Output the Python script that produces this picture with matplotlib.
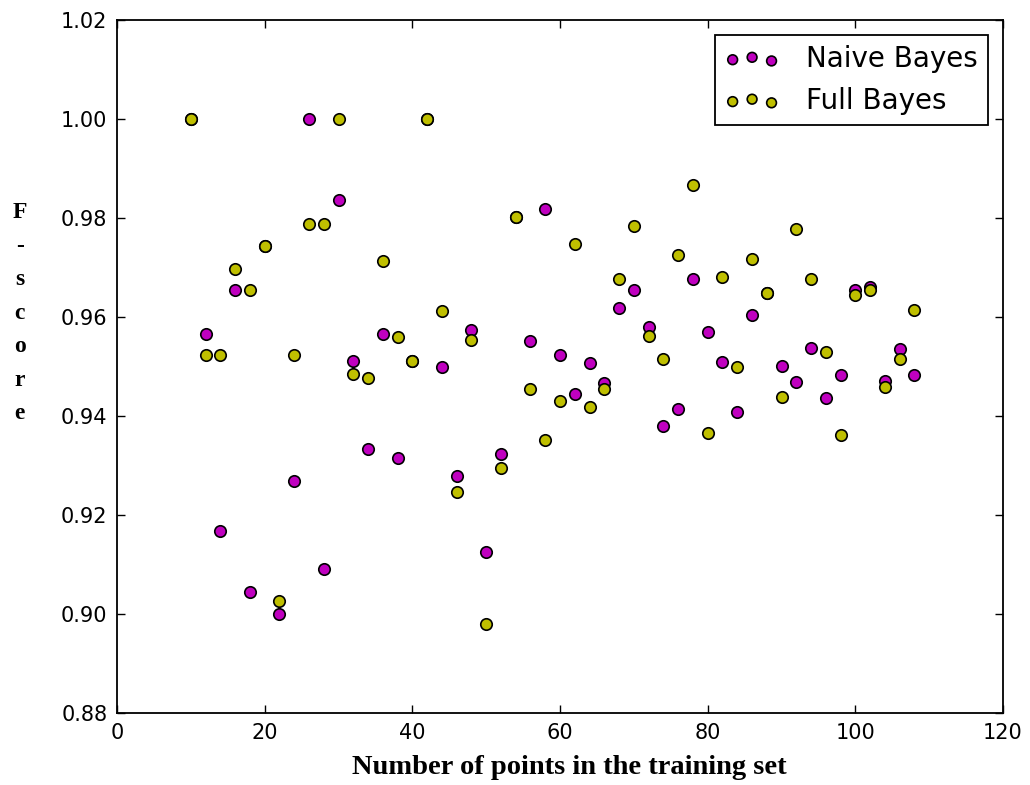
import matplotlib
matplotlib.use("Agg")
import matplotlib.pyplot as plt

# training set sizes
n_points = list(range(10, 110, 2))

naive_bayes = [1.000, 0.9566, 0.9167, 0.9655, 0.9044, 0.9743, 0.9000, 0.9268, 1.000, 0.9091,
               0.9836, 0.9512, 0.9333, 0.9566, 0.9315, 0.9512, 1.000, 0.9500, 0.9278, 0.9573,
               0.9126, 0.9324, 0.9803, 0.9552, 0.9818, 0.9523, 0.9445, 0.9508, 0.9466, 0.9619,
               0.9655, 0.9579, 0.9380, 0.9415, 0.9677, 0.9570, 0.9510, 0.9408, 0.9604, 0.9649,
               0.9502, 0.9468, 0.9538, 0.9436, 0.9483, 0.9655, 0.9660, 0.9470, 0.9535, 0.9483]

full_bayes = [1.000, 0.9523, 0.9523, 0.9696, 0.9655, 0.9743, 0.9026, 0.9523, 0.9787, 0.9787,
              1.000, 0.9484, 0.9476, 0.9714, 0.9560, 0.9512, 1.000, 0.9612, 0.9247, 0.9554,
              0.8979, 0.9295, 0.9803, 0.9454, 0.9351, 0.9431, 0.9748, 0.9418, 0.9455, 0.9677,
              0.9783, 0.9562, 0.9515, 0.9725, 0.9866, 0.9366, 0.9681, 0.9499, 0.9717, 0.9649,
              0.9438, 0.9777, 0.9676, 0.9529, 0.9362, 0.9644, 0.9654, 0.9459, 0.9516, 0.9615]

fig = plt.figure(figsize=(10.3, 7.85), dpi=100)
ax = fig.add_axes([0.1136, 0.0917, 0.8602, 0.8828])

ax.scatter(n_points, naive_bayes, s=68, c='#bf00bf', edgecolors='black', linewidths=1.2,
           label='Naive Bayes', zorder=2)
ax.scatter(n_points, full_bayes, s=68, c='#bfbf00', edgecolors='black', linewidths=1.2,
           label='Full Bayes', zorder=3)

ax.set_xlim(0, 120)
ax.set_ylim(0.88, 1.02)
ax.set_xticks(range(0, 121, 20))
ax.set_yticks([0.88, 0.90, 0.92, 0.94, 0.96, 0.98, 1.00, 1.02])
ax.set_yticklabels(['%.2f' % v for v in ax.get_yticks()])
ax.tick_params(direction='in', top=True, right=True, length=6, width=1,
               labelsize=15, colors='black', pad=7)
for sp in ax.spines.values():
    sp.set_linewidth(1.3)

ax.set_xlabel('Number of points in the training set', family='Liberation Serif',
              fontweight='bold', fontsize=20.5, labelpad=9, x=0.511)
# y label stacked one letter per line, as in the original
fig.text(0.019, 0.601, 'F\n-\ns\nc\no\nr\ne', family='Liberation Serif', fontweight='bold',
         fontsize=17, ha='center', va='center', linespacing=1.78)

leg = ax.legend(loc='upper right', scatterpoints=3, scatteryoffsets=[0.375, 0.5, 0.3125],
                fontsize=20, markerscale=0.85, fancybox=False, framealpha=1,
                borderaxespad=0.55, handletextpad=0.95, borderpad=0.35, handlelength=2.0)
leg.get_frame().set_edgecolor('black')
leg.get_frame().set_linewidth(1.3)

fig.savefig('out.png', dpi=100, facecolor='white')
